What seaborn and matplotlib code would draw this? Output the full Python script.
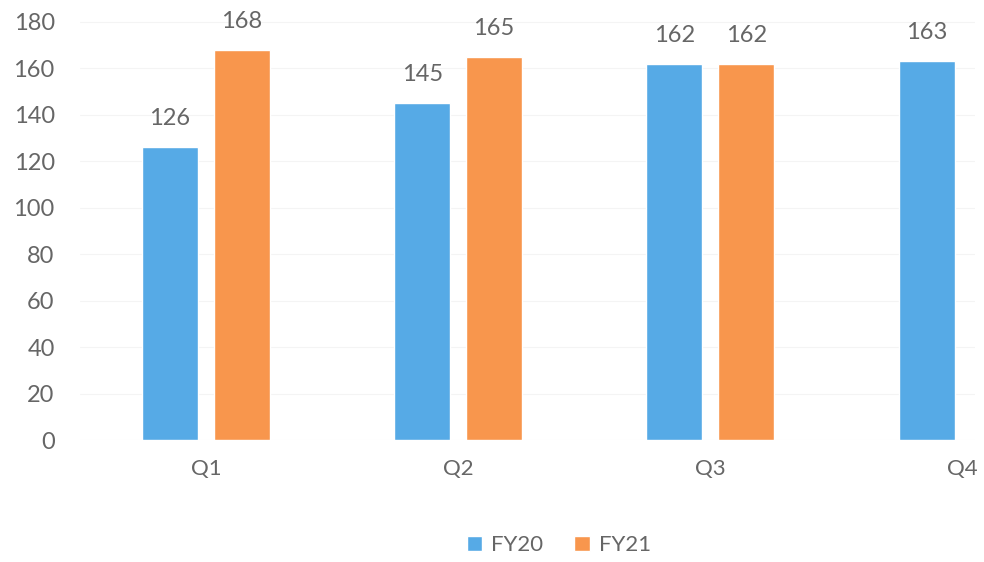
import pandas as pd
import seaborn as sns
import matplotlib.pyplot as plt

quarters = ['Q1', 'Q2', 'Q3', 'Q4']
fy20 = [126, 145, 162, 163]
fy21 = [168, 165, 162, None]

df = pd.DataFrame({
    'quarter': quarters * 2,
    'year': ['FY20'] * 4 + ['FY21'] * 4,
    'value': fy20 + fy21,
}).dropna()

sns.set_style('white')
plt.rcParams['font.family'] = ['Lato', 'DejaVu Sans']
grey = '#666666'

fig = plt.figure(figsize=(9.84, 5.62), dpi=100)
ax = fig.add_axes([0.081, 0.217, 0.91, 0.765])

sns.barplot(data=df, x='quarter', y='value', hue='year', order=quarters,
            hue_order=['FY20', 'FY21'], palette=['#56AAE6', '#F8964D'],
            saturation=1, width=0.57, gap=0.22, ax=ax)

for cont in ax.containers:
    ax.bar_label(cont, padding=13, fontsize=17, color=grey)

ax.set_ylim(0, 185)
ax.set_xlim(-0.5, 3.05)
ax.set_yticks(range(0, 181, 20))
ax.yaxis.grid(True, color='#f4f4f4', linewidth=0.8)
ax.set_axisbelow(True)
ax.tick_params(axis='y', labelsize=17, labelcolor=grey, length=0, pad=18)
ax.tick_params(axis='x', labelsize=16, labelcolor=grey, length=0, pad=14)
ax.set_xlabel('')
ax.set_ylabel('')
sns.despine(left=True, bottom=True)

ax.legend(loc='upper center', bbox_to_anchor=(0.535, -0.175), ncol=2, frameon=False,
          fontsize=16, labelcolor=grey, handlelength=0.7, handleheight=0.7,
          handletextpad=0.4, columnspacing=1.4)

fig.savefig('out.png', dpi=100)
